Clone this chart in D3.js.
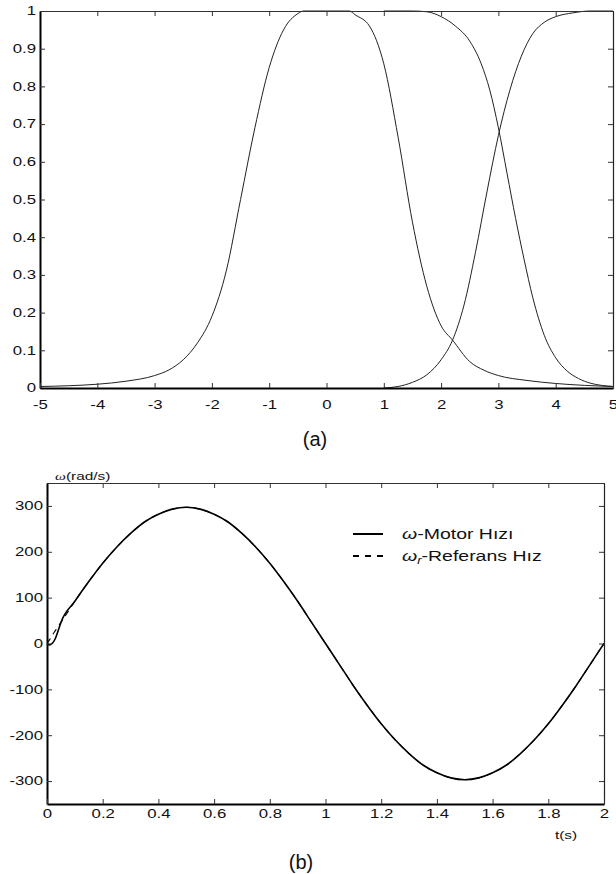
<!DOCTYPE html>
<html>
<head>
<meta charset="utf-8">
<script src="https://cdn.jsdelivr.net/npm/d3@7"></script>
<style>
body { margin: 0; background: #fff; }
svg { display: block; }
text { font-family: "Liberation Sans", Arial, sans-serif; fill: #111; }
</style>
</head>
<body>
<svg id="fig" width="616" height="874"></svg>
<script>
// ---- (a) membership curves ----
var bellX = [-5, -4.5, -4, -3.5, -3, -2.75, -2.5, -2.25, -2, -1.75, -1.5, -1.25, -1, -0.75, -0.5, -0.4, 0, 0.4, 0.5, 0.75, 1, 1.25, 1.5, 1.75, 2, 2.2, 2.5, 2.75, 3, 3.5, 4, 4.5, 5];
var bellY = [0.004, 0.006, 0.01, 0.018, 0.033, 0.048, 0.075, 0.12, 0.19, 0.31, 0.50, 0.69, 0.85, 0.95, 0.993, 1, 1, 1, 0.99, 0.96, 0.86, 0.665, 0.44, 0.27, 0.165, 0.127, 0.07, 0.047, 0.033, 0.02, 0.012, 0.007, 0.004];
var fallX = [1, 1.5, 1.75, 2, 2.25, 2.5, 2.7, 2.85, 3, 3.15, 3.3, 3.45, 3.6, 3.8, 4, 4.2, 4.4, 4.6, 4.8, 5];
var fallY = [1, 1, 0.998, 0.985, 0.96, 0.92, 0.86, 0.79, 0.69, 0.57, 0.45, 0.34, 0.24, 0.14, 0.08, 0.045, 0.025, 0.013, 0.007, 0.004];
var riseX = [1, 1.25, 1.5, 1.75, 2, 2.2, 2.4, 2.6, 2.8, 3, 3.2, 3.4, 3.6, 3.8, 4, 4.3, 4.6, 5];
var riseY = [0, 0.004, 0.015, 0.035, 0.075, 0.127, 0.22, 0.36, 0.52, 0.67, 0.79, 0.88, 0.94, 0.97, 0.985, 0.995, 1, 1];
var aTicksX = [-5, -4, -3, -2, -1, 0, 1, 2, 3, 4, 5];
var aTicksY = [0, 0.1, 0.2, 0.3, 0.4, 0.5, 0.6, 0.7, 0.8, 0.9, 1];

// ---- (b) speed response ----
var refT = [0, 0.01, 0.02, 0.03, 0.04, 0.05, 0.1, 0.15, 0.2, 0.25, 0.3, 0.35, 0.4, 0.45, 0.5, 0.55, 0.6, 0.65, 0.7, 0.75, 0.8, 0.85, 0.9, 0.95, 1,
            1.05, 1.1, 1.15, 1.2, 1.25, 1.3, 1.35, 1.4, 1.45, 1.5, 1.55, 1.6, 1.65, 1.7, 1.75, 1.8, 1.85, 1.9, 1.95, 2];
var refW = [0, 9, 19, 28, 37, 46, 92, 135, 175, 210, 240, 265, 282, 293, 297, 293, 282, 265, 240, 210, 175, 135, 92, 46, 0,
            -46, -92, -135, -175, -210, -240, -265, -282, -293, -297, -293, -282, -265, -240, -210, -175, -135, -92, -46, 0];
var motorT = [0, 0.01, 0.02, 0.03, 0.04, 0.05, 0.1, 0.15, 0.2, 0.25, 0.3, 0.35, 0.4, 0.45, 0.5, 0.55, 0.6, 0.65, 0.7, 0.75, 0.8, 0.85, 0.9, 0.95, 1,
              1.05, 1.1, 1.15, 1.2, 1.25, 1.3, 1.35, 1.4, 1.45, 1.5, 1.55, 1.6, 1.65, 1.7, 1.75, 1.8, 1.85, 1.9, 1.95, 2];
var motorW = [0, -3, 1, 11, 28, 46, 92, 135, 175, 210, 240, 265, 282, 293, 297, 293, 282, 265, 240, 210, 175, 135, 92, 46, 0,
              -46, -92, -135, -175, -210, -240, -265, -282, -293, -297, -293, -282, -265, -240, -210, -175, -135, -92, -46, 0];
var bTicksX = [0, 0.2, 0.4, 0.6, 0.8, 1, 1.2, 1.4, 1.6, 1.8, 2];
var bTicksY = [-300, -200, -100, 0, 100, 200, 300];

var SX = 1.4; // the chart image is stretched sideways
var svg = d3.select("#fig");

function zip(xs, ys) { return xs.map(function (x, i) { return [x, ys[i]]; }); }

function drawFrame(g, x, y, ticksX, ticksY, labelGap, fs) {
    var w = x.range()[1], h = y.range()[0];

    // thin top & right with inward ticks
    g.append("g").call(d3.axisTop(x).tickValues(ticksX).tickSize(-5).tickSizeOuter(0).tickFormat(""))
        .call(function (s) { s.select(".domain").attr("stroke", "#333").attr("stroke-width", 1); });
    g.append("g").attr("transform", "translate(" + w + ",0)")
        .call(d3.axisRight(y).tickValues(ticksY).tickSize(-5).tickSizeOuter(0).tickFormat(""))
        .call(function (s) { s.select(".domain").attr("stroke", "#222").attr("stroke-width", 1.2); });

    // thick left & bottom with labels
    var left = g.append("g")
        .call(d3.axisLeft(y).tickValues(ticksY).tickSize(-5).tickSizeOuter(0).tickFormat(String));
    left.select(".domain").attr("stroke", "#000").attr("stroke-width", 2);
    left.selectAll(".tick text")
        .style("font-size", fs + "px")
        .attr("x", -4 / SX)
        .attr("transform", "scale(" + SX + ",1)");

    var bottom = g.append("g").attr("transform", "translate(0," + h + ")")
        .call(d3.axisBottom(x).tickValues(ticksX).tickSize(-5).tickSizeOuter(0).tickFormat(String));
    bottom.select(".domain").attr("stroke", "#000").attr("stroke-width", 2);
    bottom.selectAll(".tick text")
        .style("font-size", fs + "px")
        .attr("y", labelGap)
        .attr("transform", "scale(" + SX + ",1)");

    g.selectAll(".tick line").attr("stroke", "#333");
}

// ===== chart (a) =====
var gA = svg.append("g").attr("transform", "translate(40,11)");
var xA = d3.scaleLinear().domain([-5, 5]).range([0, 573]);
var yA = d3.scaleLinear().domain([0, 1]).range([377, 0]);

var lineA = d3.line().x(function (d) { return xA(d[0]); }).y(function (d) { return yA(d[1]); })
    .curve(d3.curveMonotoneX);

[zip(bellX, bellY), zip(fallX, fallY), zip(riseX, riseY)].forEach(function (s) {
    gA.append("path").datum(s).attr("d", lineA)
        .attr("fill", "none").attr("stroke", "#222").attr("stroke-width", 1);
});
drawFrame(gA, xA, yA, aTicksX, aTicksY, 12, 12);

svg.append("text").attr("x", 315).attr("y", 446).attr("text-anchor", "middle")
    .style("font-size", "20px").text("(a)");

// ===== chart (b) =====
var gB = svg.append("g").attr("transform", "translate(47,483)");
var xB = d3.scaleLinear().domain([0, 2]).range([0, 557]);
var yB = d3.scaleLinear().domain([-350, 350]).range([321, 0]);

var lineB = d3.line().x(function (d) { return xB(d[0]); }).y(function (d) { return yB(d[1]); })
    .curve(d3.curveMonotoneX);

gB.append("path").datum(zip(refT, refW)).attr("d", lineB)
    .attr("fill", "none").attr("stroke", "#000").attr("stroke-width", 1.1)
    .attr("stroke-dasharray", "6,5");
gB.append("path").datum(zip(motorT, motorW)).attr("d", lineB)
    .attr("fill", "none").attr("stroke", "#000").attr("stroke-width", 1.6);

drawFrame(gB, xB, yB, bTicksX, bTicksY, 5, 12);

// axis captions
var yCap = svg.append("text").attr("transform", "translate(55,480) scale(" + SX + ",1)")
    .style("font-size", "11px");
yCap.append("tspan").style("font-family", "'Liberation Serif', serif").style("font-style", "italic").text("ω");
yCap.append("tspan").text("(rad/s)");

svg.append("text").attr("transform", "translate(566,839) scale(" + SX + ",1)")
    .attr("text-anchor", "middle").style("font-size", "11px").text("t(s)");

// legend
var legend = svg.append("g").attr("transform", "translate(353,534)");
var legendItems = [
    { dash: null, sub: "", rest: "-Motor Hızı" },
    { dash: "6,6", sub: "r", rest: "-Referans Hız" }
];
legendItems.forEach(function (it, i) {
    var row = legend.append("g").attr("transform", "translate(0," + (i * 22) + ")");
    row.append("line").attr("x1", 0).attr("x2", 30).attr("y1", 0).attr("y2", 0)
        .attr("stroke", "#000").attr("stroke-width", 2)
        .attr("stroke-dasharray", it.dash);
    var t = row.append("text").attr("transform", "translate(49,5) scale(1.3,1)")
        .style("font-size", "15px");
    t.append("tspan").style("font-style", "italic").text("ω");
    if (it.sub) {
        t.append("tspan").style("font-style", "italic").style("font-size", "10px")
            .attr("dy", 3).text(it.sub);
        t.append("tspan").attr("dy", -3).text(it.rest);
    } else {
        t.append("tspan").text(it.rest);
    }
});

svg.append("text").attr("x", 301).attr("y", 869).attr("text-anchor", "middle")
    .style("font-size", "20px").text("(b)");
</script>
</body>
</html>
